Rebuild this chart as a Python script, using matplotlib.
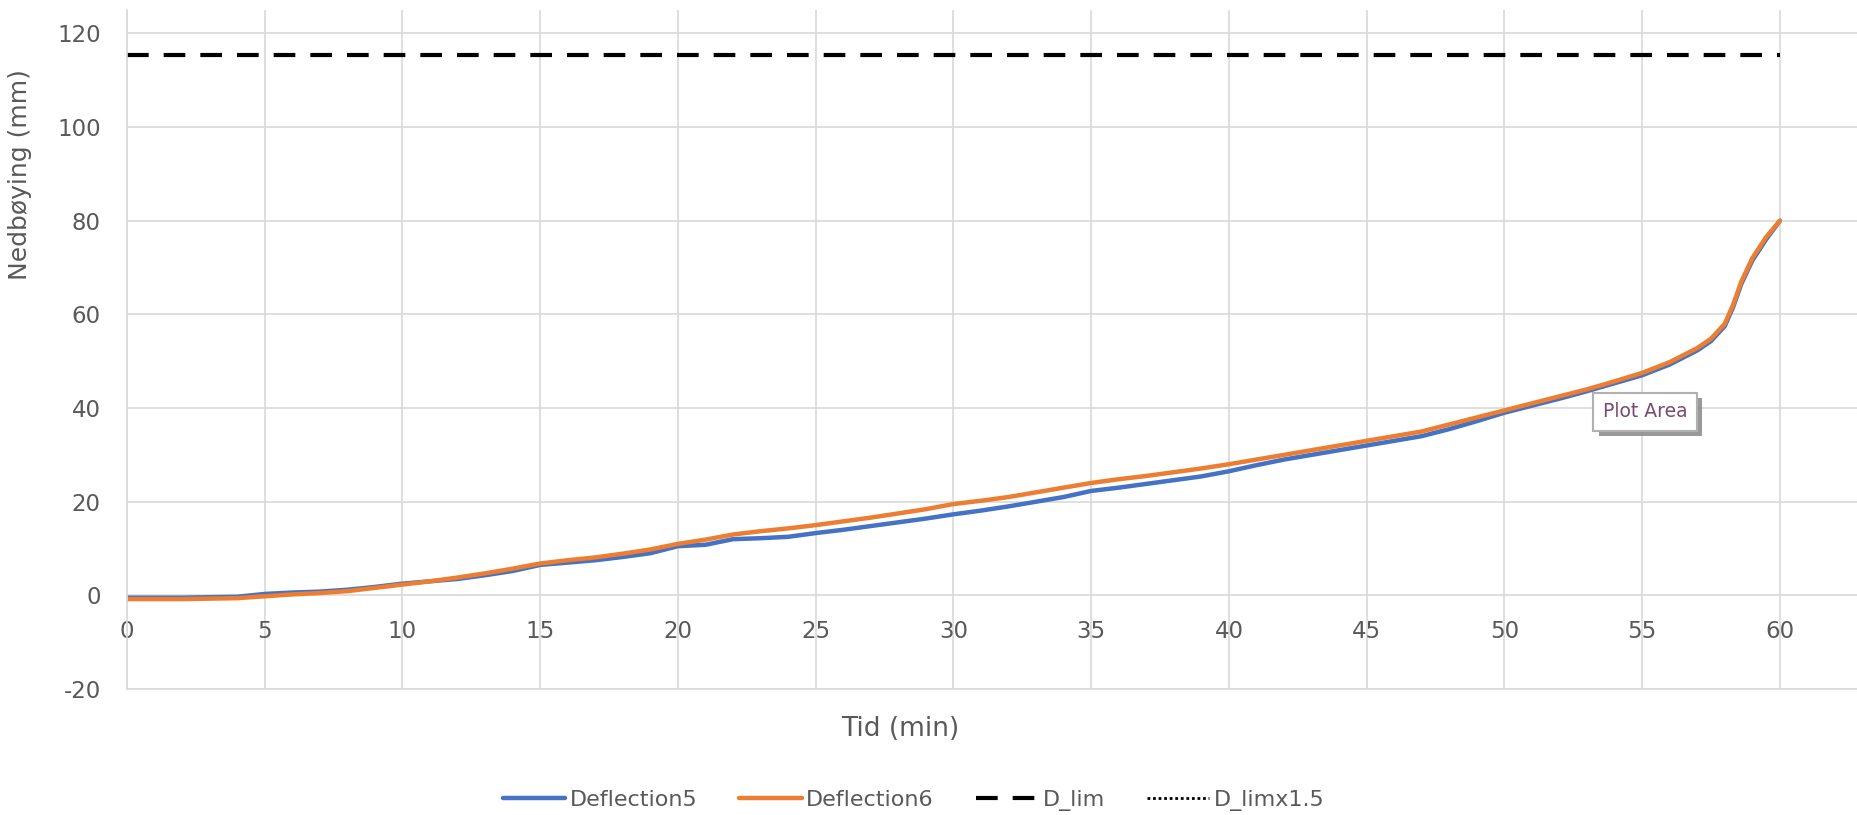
from matplotlib import pyplot as plt
from matplotlib import patheffects
import numpy as np

# Tid (min) and deflection readings (mm)
tid = [0, 2, 4, 5, 6, 7, 8, 9, 10, 11, 12, 13, 14, 15, 16, 17, 18, 19, 20, 21, 22, 23,
       24, 25, 26, 27, 28, 29, 30, 31, 32, 33, 34, 35, 36, 37, 38, 39, 40, 41, 42, 43,
       44, 45, 46, 47, 48, 49, 50, 51, 52, 53, 54, 55, 56, 57, 57.5, 58, 58.3, 58.6,
       59, 59.5, 60]
deflection5 = [-0.5, -0.5, -0.3, 0.3, 0.6, 0.8, 1.2, 1.8, 2.5, 3.0, 3.5, 4.3, 5.2, 6.5,
               7.0, 7.5, 8.2, 9.0, 10.5, 10.8, 12.0, 12.2, 12.5, 13.3, 14.0, 14.8, 15.6,
               16.4, 17.3, 18.1, 19.0, 20.0, 21.0, 22.3, 23.0, 23.8, 24.6, 25.4, 26.5,
               27.8, 29.0, 30.0, 31.0, 32.0, 33.0, 34.0, 35.5, 37.2, 39.0, 40.5, 42.0,
               43.6, 45.3, 47.0, 49.3, 52.3, 54.3, 57.5, 61.5, 66.5, 71.5, 76.0, 80.0]
deflection6 = [-0.8, -0.8, -0.6, -0.2, 0.2, 0.5, 0.9, 1.6, 2.3, 3.0, 3.8, 4.7, 5.7, 6.8,
               7.5, 8.1, 8.9, 9.8, 11.0, 11.9, 13.0, 13.7, 14.3, 15.0, 15.8, 16.6, 17.5,
               18.4, 19.5, 20.2, 21.0, 22.0, 23.0, 24.0, 24.8, 25.5, 26.3, 27.1, 28.0,
               29.0, 30.0, 31.0, 32.0, 33.0, 34.0, 35.0, 36.5, 38.0, 39.5, 41.0, 42.5,
               44.0, 45.7, 47.5, 49.8, 52.8, 54.8, 58.0, 62.0, 67.0, 72.0, 76.5, 80.0]
d_lim = 115.5
d_lim_x = [0, 60]

xticks = np.arange(0, 61, 5)
yticks = np.arange(-20, 121, 20)

text_color = "#595959"
grid_color = "#d9d9d9"

plt.rcParams["axes.unicode_minus"] = False

figure = plt.figure(figsize=(18.57, 8.15), dpi=100)
ax = figure.add_axes([0.0684, 0.1546, 0.9316, 0.8331])

ax.plot(tid, deflection5, color="#4472C4", lw=3.2, label="Deflection5", solid_capstyle="round")
ax.plot(tid, deflection6, color="#ED7D31", lw=3.2, label="Deflection6", solid_capstyle="round")
ax.plot(d_lim_x, [d_lim, d_lim], color="black", lw=3.0, ls=(0, (5.2, 3.6)), label="D_lim")
ax.plot(d_lim_x, [d_lim * 1.5, d_lim * 1.5], color="black", lw=2, ls=(0, (1, 1)), label="D_limx1.5")

ax.set_xlim(0, 62.8)
ax.set_ylim(-20, 125)
ax.set_xticks(xticks)
ax.set_yticks(yticks)
ax.grid(True, color=grid_color, lw=1.2)
ax.set_axisbelow(True)

for side in ["top", "right"]:
    ax.spines[side].set_visible(False)
for side in ["left", "bottom"]:
    ax.spines[side].set_color(grid_color)
    ax.spines[side].set_linewidth(1.2)

# x labels sit under the zero line like in Excel
ax.tick_params(axis="x", length=0, pad=-50, labelsize=16.5, labelcolor=text_color)
ax.tick_params(axis="y", length=0, pad=19, labelsize=16.5, labelcolor=text_color)

ax.set_xlabel("Tid (min)", fontsize=19, color=text_color)
ax.xaxis.set_label_coords(0.447, -0.04)
ax.set_ylabel("Nedbøying (mm)", fontsize=18, color=text_color)
ax.yaxis.set_label_coords(-0.055, 0.757)

# Excel tooltip left in the screenshot
tip = ax.text(55.1, 39.2, "Plot Area", fontsize=13.5, color="#7a4a6e", ha="center", va="center",
              bbox=dict(boxstyle="square,pad=0.5", fc="white", ec="#b0b0b0", lw=1.5))
tip.get_bbox_patch().set_path_effects([patheffects.withSimplePatchShadow(offset=(4, -4), shadow_rgbFace="#808080", alpha=0.8)])

figure.legend(loc="center", bbox_to_anchor=(0.492, 0.018), ncol=4, frameon=False,
              fontsize=16, labelcolor=text_color, handlelength=2.8, handletextpad=0.2,
              columnspacing=1.9)

plt.savefig("out.png", dpi=100)
